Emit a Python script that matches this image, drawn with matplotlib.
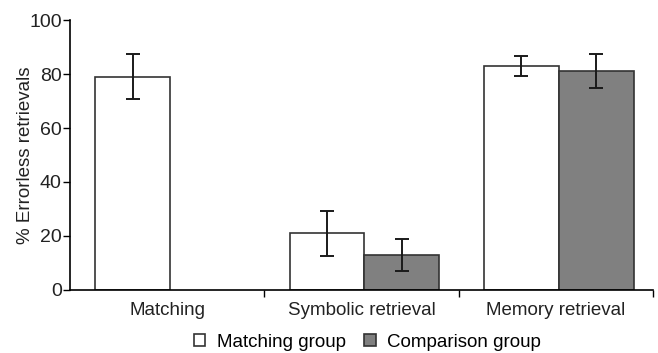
import numpy as np
from matplotlib import pyplot as plt

plt.rcParams['font.family'] = ['Liberation Sans', 'DejaVu Sans']

# data
categories = ["Matching", "Symbolic retrieval", "Memory retrieval"]
matching_group = [79, 21, 83]
matching_err = [8.3, 8.3, 3.6]
comparison_group = [np.nan, 13, 81]
comparison_err = [np.nan, 5.8, 6.3]

fig = plt.figure(figsize=(6.58, 3.53), dpi=100)
ax = fig.add_axes([0.1064, 0.1785, 0.886, 0.7648])

x = np.arange(len(categories))
w = 0.385
ebar = dict(elinewidth=1.4, capsize=5, capthick=1.4, ecolor="#1a1a1a")

ax.bar(x - w / 2 + 0.015, matching_group, w, yerr=matching_err, color="white",
       edgecolor="#333333", linewidth=1.2, error_kw=ebar, label="Matching group")
ax.bar(x + w / 2 + 0.015, comparison_group, w, yerr=comparison_err, color="#808080",
       edgecolor="#333333", linewidth=1.2, error_kw=ebar, label="Comparison group")

ax.set_xlim(-0.5, 2.5)
ax.set_ylim(0, 100)
ax.set_yticks([0, 20, 40, 60, 80, 100])
ax.tick_params(axis="y", labelsize=14, length=5, width=1, pad=1, labelcolor="#222222")

# ticks at group boundaries, labels at group centres
ax.set_xticks([0.5, 1.5, 2.5])
ax.set_xticklabels([])
ax.set_xticks(x, minor=True)
ax.set_xticklabels(categories, minor=True, fontsize=13.5, color="#222222")
ax.tick_params(axis="x", which="major", direction="out", length=5, width=1)
ax.tick_params(axis="x", which="minor", length=0, pad=9)

ax.set_ylabel("% Errorless retrievals", fontsize=13.5, labelpad=0, color="#222222")
ax.yaxis.set_label_coords(-0.062, 0.5)
for s in ["top", "right"]:
    ax.spines[s].set_visible(False)
ax.spines["left"].set_linewidth(1.2)
ax.spines["bottom"].set_linewidth(1.2)

ax.legend(loc="upper center", bbox_to_anchor=(0.51, -0.135), ncol=2, frameon=False,
          fontsize=13.5, handlelength=0.6, handleheight=0.6, handletextpad=0.6,
          columnspacing=1.0, borderaxespad=0)

fig.savefig("out.png", dpi=100)
